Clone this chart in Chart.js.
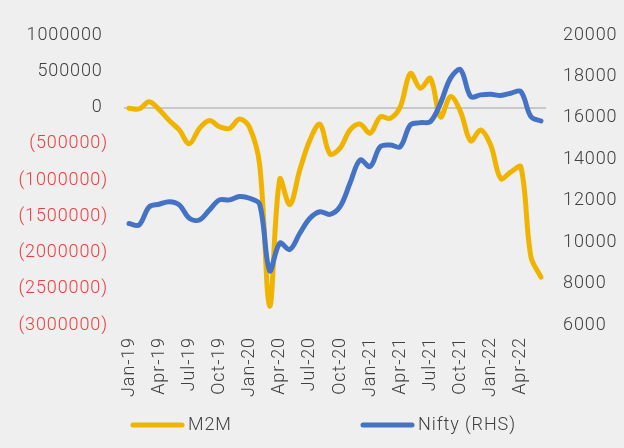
<!DOCTYPE html>
<html><head><meta charset="utf-8">
<script src="https://cdn.jsdelivr.net/npm/chart.js@4.4.1/dist/chart.umd.min.js"></script>
<style>html,body{margin:0;padding:0;background:#efefef;} canvas{display:block;}</style>
</head><body>
<canvas id="c" width="624" height="448"></canvas>
<script>
const categories = ['Jan-19','Feb-19','Mar-19','Apr-19','May-19','Jun-19','Jul-19','Aug-19','Sep-19','Oct-19','Nov-19','Dec-19',
  'Jan-20','Feb-20','Mar-20','Apr-20','May-20','Jun-20','Jul-20','Aug-20','Sep-20','Oct-20','Nov-20','Dec-20',
  'Jan-21','Feb-21','Mar-21','Apr-21','May-21','Jun-21','Jul-21','Aug-21','Sep-21','Oct-21','Nov-21','Dec-21',
  'Jan-22','Feb-22','Mar-22','Apr-22','May-22','Jun-22'];
const m2m = [-10000, -20000, 80000, -30000, -180000, -310000, -500000, -290000, -180000, -265000, -290000, -160000,
  -275000, -790000, -2740000, -990000, -1340000, -860000, -450000, -230000, -640000, -560000, -310000, -230000,
  -355000, -130000, -150000, 10000, 470000, 265000, 400000, -130000, 150000, -60000, -460000, -310000,
  -520000, -980000, -890000, -820000, -2060000, -2340000];
const nifty = [10900, 10830, 11700, 11830, 11950, 11800, 11150, 11070, 11550, 12040, 12040, 12200,
  12120, 11830, 8620, 9950, 9640, 10430, 11150, 11470, 11340, 11710, 12850, 13970,
  13650, 14610, 14690, 14610, 15660, 15770, 15820, 16710, 17920, 18320, 17030, 17110,
  17140, 17080, 17190, 17270, 16060, 15850];
const leftTicks = [1000000, 500000, 0, -500000, -1000000, -1500000, -2000000, -2500000, -3000000];
const rightTicks = [20000, 18000, 16000, 14000, 12000, 10000, 8000, 6000];
const seriesNames = ['M2M', 'Nifty (RHS)'];

const YELLOW = '#F0B400', BLUE = '#4472C4', TEXT = '#404040', RED = '#E8403F';
const FAMILY = 'Roboto, "Noto Sans", sans-serif';
Chart.defaults.font.family = FAMILY;
Chart.defaults.font.size = 18;
Chart.defaults.font.weight = '300';
Chart.defaults.color = TEXT;
const SPACING = '0.9px';

const spacingPlugin = {
  id: 'spacing',
  beforeUpdate(chart) { chart.ctx.letterSpacing = SPACING; },
  beforeLayout(chart) { chart.ctx.letterSpacing = SPACING; },
  beforeDraw(chart) { chart.ctx.letterSpacing = SPACING; }
};
const bgPlugin = {
  id: 'bg',
  beforeDraw(chart) {
    const c = chart.ctx; c.save(); c.fillStyle = '#efefef';
    c.fillRect(0, 0, chart.width, chart.height); c.restore();
  }
};
const legendPlugin = {
  id: 'customLegend',
  afterDraw(chart) {
    const c = chart.ctx;
    const items = [
      {x1: 133, x2: 182, tx: 188, color: YELLOW, text: seriesNames[0]},
      {x1: 363, x2: 412, tx: 418, color: BLUE, text: seriesNames[1]}
    ];
    const y = 425;
    c.save();
    c.letterSpacing = SPACING;
    items.forEach(it => {
      c.strokeStyle = it.color; c.lineWidth = 5; c.lineCap = 'round';
      c.beginPath(); c.moveTo(it.x1, y); c.lineTo(it.x2, y); c.stroke();
      c.fillStyle = TEXT; c.font = '300 18px ' + FAMILY;
      c.textBaseline = 'middle'; c.textAlign = 'left';
      c.fillText(it.text, it.tx, y);
    });
    c.restore();
  }
};

new Chart(document.getElementById('c'), {
  type: 'line',
  data: {
    labels: categories,
    datasets: [
      {label: seriesNames[0], data: m2m, yAxisID: 'y', borderColor: YELLOW, backgroundColor: YELLOW,
       borderWidth: 5, pointRadius: 0, tension: 0.35, borderCapStyle: 'round', borderJoinStyle: 'round', order: 1},
      {label: seriesNames[1], data: nifty, yAxisID: 'y2', borderColor: BLUE, backgroundColor: BLUE,
       borderWidth: 5, pointRadius: 0, tension: 0.35, borderCapStyle: 'round', borderJoinStyle: 'round', order: 0}
    ]
  },
  options: {
    responsive: false, animation: false, devicePixelRatio: 1,
    layout: {padding: {top: 35, left: 0, right: 0, bottom: 0}},
    plugins: {legend: {display: false}, tooltip: {enabled: false}},
    scales: {
      x: {
        offset: true,
        grid: {display: false, drawTicks: false}, border: {display: false},
        ticks: {autoSkip: false, maxRotation: 90, minRotation: 90, padding: 12, color: TEXT,
          callback: (v, i) => (i % 3 === 0 ? categories[i] : '')},
        afterFit: s => { s.height = 123; }
      },
      y: {
        position: 'left', min: -3000000, max: 1000000,
        afterBuildTicks: s => { s.ticks = leftTicks.map(v => ({value: v})); },
        grid: {drawTicks: false, lineWidth: 2,
          color: c => (c.tick && c.tick.value === 0 ? '#c8c8c8' : 'rgba(0,0,0,0)')},
        border: {display: false},
        ticks: {padding: 16,
          color: c => (c.tick.value < 0 ? RED : TEXT),
          callback: v => (v < 0 ? '(' + Math.abs(v) + ')' : v + ' ')},
        afterFit: s => { s.width = 124; }
      },
      y2: {
        position: 'right', min: 6000, max: 20000,
        afterBuildTicks: s => { s.ticks = rightTicks.map(v => ({value: v})); },
        grid: {display: false, drawTicks: false}, border: {display: false},
        ticks: {padding: 17, color: TEXT, callback: v => String(v)},
        afterFit: s => { s.width = 78; }
      }
    }
  },
  plugins: [spacingPlugin, bgPlugin, legendPlugin]
});
</script>
</body></html>
